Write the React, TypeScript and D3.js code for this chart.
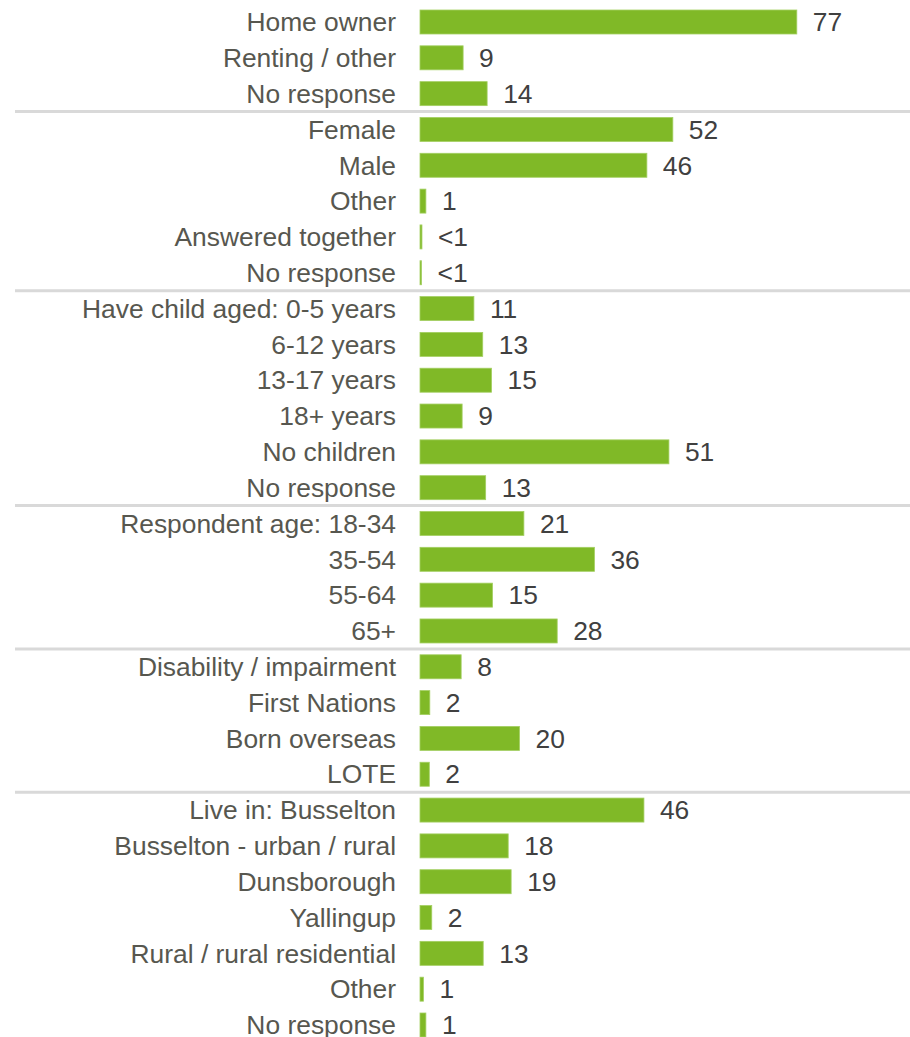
import React from "react";
import * as d3 from "d3";

const categories: string[] = [
  "Home owner", "Renting / other", "No response",
  "Female", "Male", "Other", "Answered together", "No response",
  "Have child aged: 0-5 years", "6-12 years", "13-17 years", "18+ years", "No children", "No response",
  "Respondent age: 18-34", "35-54", "55-64", "65+",
  "Disability / impairment", "First Nations", "Born overseas", "LOTE",
  "Live in: Busselton", "Busselton - urban / rural", "Dunsborough", "Yallingup",
  "Rural / rural residential", "Other", "No response",
];

const values: number[] = [
  76.9, 8.8, 13.7,
  51.6, 46.3, 1.2, 0.4, 0.3,
  11.0, 12.8, 14.6, 8.6, 50.8, 13.4,
  21.2, 35.6, 14.8, 28.0,
  8.4, 2.0, 20.3, 1.9,
  45.7, 18.0, 18.6, 2.4, 12.9, 0.7, 1.2,
];

const valueLabels: string[] = [
  "77", "9", "14",
  "52", "46", "1", "<1", "<1",
  "11", "13", "15", "9", "51", "13",
  "21", "36", "15", "28",
  "8", "2", "20", "2",
  "46", "18", "19", "2", "13", "1", "1",
];

// index of last row of each group (separator drawn after it)
const groupEnds: number[] = [2, 7, 13, 17, 21];

const W = 910;
const H = 1037;

export default function App() {
  const idx = categories.map((_, i) => i);
  const y = d3.scalePoint<number>().domain(idx).range([22, 1025]);
  const x = d3.scaleLinear().domain([0, 100]).range([420, 910]);
  const barH = 24;
  const step = y.step();
  const font = "'Liberation Sans', Arial, sans-serif";
  const fs = 26.4;

  return (
    <svg
      width={W}
      height={H}
      style={{ position: "absolute", left: 0, top: 0, background: "#fff" }}
      fontFamily={font}
    >
      {groupEnds.map((g) => {
        const yy = (y(g) as number) + step / 2;
        return (
          <line key={"sep" + g} x1={15} x2={W} y1={yy} y2={yy} stroke="#d9d9d9" strokeWidth={3} />
        );
      })}
      {idx.map((i) => {
        const cy = y(i) as number;
        const v = values[i];
        const x1 = x(v);
        return (
          <g key={i}>
            <text x={396} y={cy} dy="0.35em" textAnchor="end" fontSize={fs} fill="#57574f">
              {categories[i]}
            </text>
            <rect
              x={x(0)}
              y={cy - barH / 2}
              width={Math.max(1, x1 - x(0))}
              height={barH}
              fill="#80b927"
              stroke="#a3cf62"
              strokeWidth={0.8}
            />
            <text x={x1 + 16} y={cy} dy="0.35em" textAnchor="start" fontSize={fs} fill="#404040">
              {valueLabels[i]}
            </text>
          </g>
        );
      })}
    </svg>
  );
}
